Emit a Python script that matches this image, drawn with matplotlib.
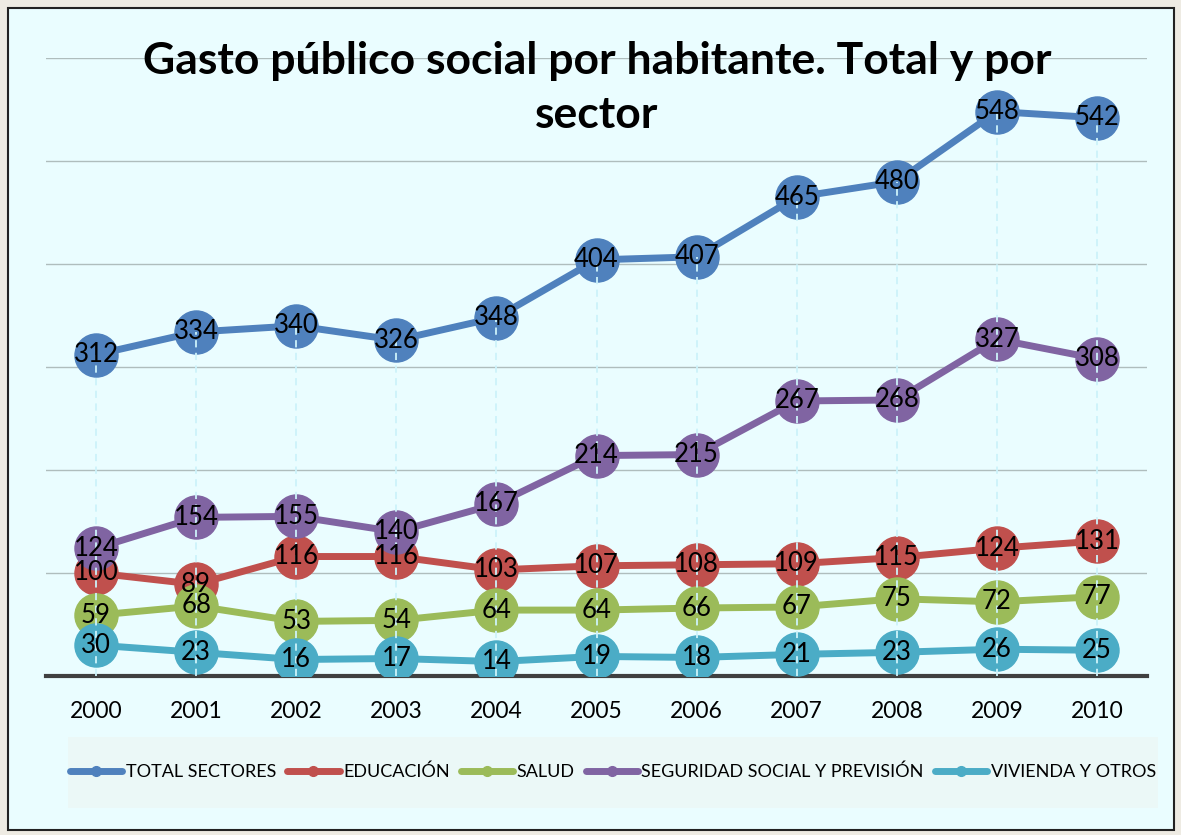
import numpy as np
import matplotlib.pyplot as plt
from matplotlib.patches import Rectangle
from matplotlib.lines import Line2D

years = ['2000', '2001', '2002', '2003', '2004', '2005',
         '2006', '2007', '2008', '2009', '2010']
total = [312, 334, 340, 326, 348, 404, 407, 465, 480, 548, 542]
educacion = [100, 89, 116, 116, 103, 107, 108, 109, 115, 124, 131]
salud = [59, 68, 53, 54, 64, 64, 66, 67, 75, 72, 77]
seguridad = [124, 154, 155, 140, 167, 214, 215, 267, 268, 327, 308]
vivienda = [30, 23, 16, 17, 14, 19, 18, 21, 23, 26, 25]

series = [('TOTAL SECTORES', total, '#4F81BD'),
          ('EDUCACIÓN', educacion, '#C0504D'),
          ('SALUD', salud, '#9BBB59'),
          ('SEGURIDAD SOCIAL Y PREVISIÓN', seguridad, '#8064A2'),
          ('VIVIENDA Y OTROS', vivienda, '#4BACC6')]

plt.rcParams['font.family'] = ['Lato', 'DejaVu Sans']

fig = plt.figure(figsize=(11.81, 8.35), dpi=100)
fig.patch.set_facecolor('#EEEBE3')
# chart area with black border
fig.patches.append(Rectangle((8 / 1181, 5 / 835), 1166 / 1181, 822 / 835,
                             transform=fig.transFigure, facecolor='#EAFDFF',
                             edgecolor='#222222', linewidth=1.5, zorder=-2))
# legend background
fig.patches.append(Rectangle((68 / 1181, 27 / 835), 1090 / 1181, 71 / 835,
                             transform=fig.transFigure, facecolor='#EBF8F7',
                             edgecolor='none', zorder=-1))

ax = fig.add_axes([46 / 1181, 1 - 676 / 835, 1101 / 1181, 618 / 835])
ax.set_facecolor('none')
x = np.arange(len(years))

# drop lines from the highest point to the axis
tops = np.max([s[1] for s in series], axis=0)
ax.vlines(x, 0, tops, colors='#CDF3FA', linestyles=(0, (4, 3)),
          linewidth=1.3, zorder=4)

order = [0, 3, 1, 2, 4]
for k in order:
    name, vals, col = series[k]
    ax.plot(x, vals, color=col, linewidth=5, marker='o', markersize=31,
            solid_capstyle='round', zorder=3 + k * 0.01, label=name)
    for xi, v in zip(x, vals):
        ax.text(xi, v, str(v), ha='center', va='center', fontsize=18.5,
                color='black', zorder=6)

ax.set_xlim(-0.5, 10.5)
ax.set_ylim(0, 600)
ax.set_yticks(np.arange(100, 601, 100))
ax.yaxis.grid(True, color='#AFBDBD', linewidth=1)
ax.set_axisbelow(True)
ax.tick_params(axis='y', length=0, labelleft=False)
ax.set_xticks(x)
ax.set_xticklabels(years, fontsize=16.5)
ax.tick_params(axis='x', length=0, pad=18)
for sp in ['top', 'right', 'left']:
    ax.spines[sp].set_visible(False)
ax.spines['bottom'].set_color('#404040')
ax.spines['bottom'].set_linewidth(3)

fig.text(597 / 1181, 1 - 88 / 835,
         'Gasto público social por habitante. Total y por\nsector',
         ha='center', va='center', fontsize=32, fontweight='bold',
         linespacing=1.4)

handles = [Line2D([0], [0], color=c, linewidth=5, marker='o', markersize=7,
                  solid_capstyle='round')
           for _, _, c in series]
labels = [s[0] for s in series]
fig.legend(handles, labels, loc='center', ncol=5,
           bbox_to_anchor=(613 / 1181, 1 - 772 / 835), frameon=False,
           fontsize=13, handlelength=2.9, handletextpad=0.2,
           columnspacing=0.6)

fig.savefig('out.png', dpi=100, facecolor=fig.get_facecolor())
